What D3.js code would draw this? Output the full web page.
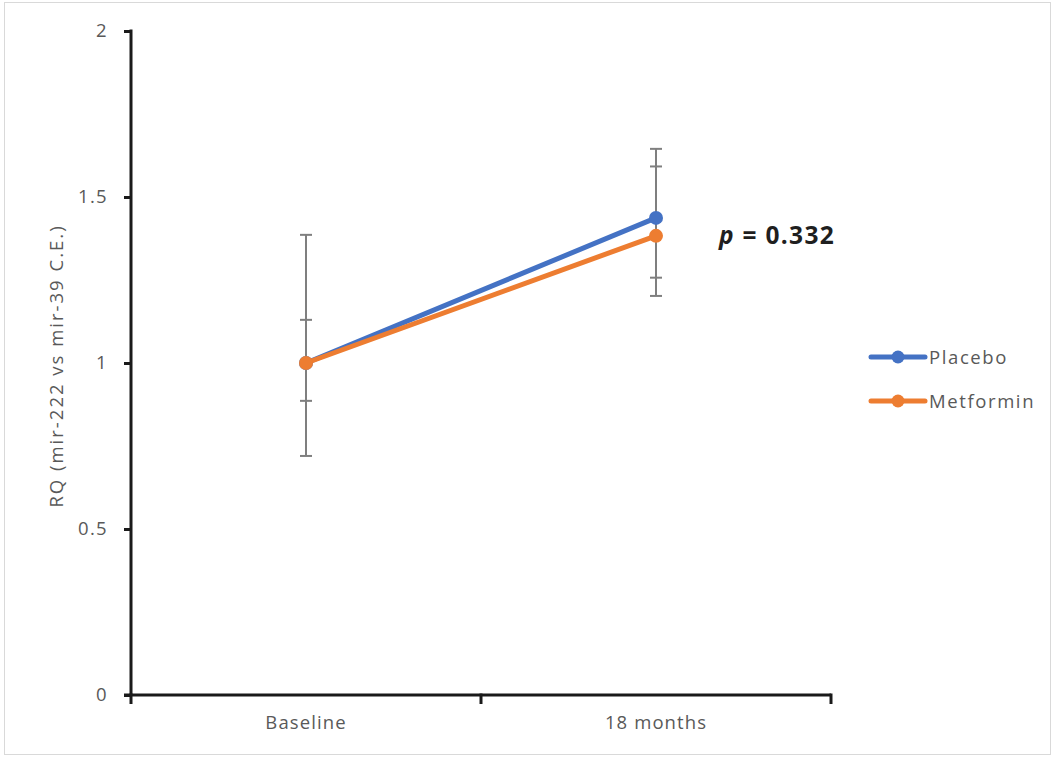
<!DOCTYPE html>
<html>
<head>
<meta charset="utf-8">
<script src="https://cdn.jsdelivr.net/npm/d3@7"></script>
<style>
  html, body { margin: 0; padding: 0; background: #fff; }
  svg { display: block; font-family: "Open Sans", sans-serif; }
</style>
</head>
<body>
<svg id="chart" width="1056" height="758"></svg>
<script>
// Time points and series
const timepoints = ["Baseline", "18 months"];
const seriesNames = ["Placebo", "Metformin"];
const seriesColors = ["#4472C4", "#ED7D31"];

// Mean relative quantity per time point
const placeboMean   = [1.0, 1.437];
const metforminMean = [1.0, 1.383];

// Error bar ends (upper / lower) per time point
const placeboUpper   = [1.13, 1.645];
const placeboLower   = [0.886, 1.257];
const metforminUpper = [1.386, 1.592];
const metforminLower = [0.72, 1.202];

const yTicks = [0, 0.5, 1, 1.5, 2];
const yTickLabels = ["0", "0.5", "1", "1.5", "2"];
const annotation = "0.332";

const FONT = "'Open Sans', sans-serif";

const series = [
  { name: seriesNames[0], color: seriesColors[0], mean: placeboMean, upper: placeboUpper, lower: placeboLower },
  { name: seriesNames[1], color: seriesColors[1], mean: metforminMean, upper: metforminUpper, lower: metforminLower }
];

const svg = d3.select("#chart");

// Outer frame
svg.append("rect")
  .attr("x", 4.5).attr("y", 2.5)
  .attr("width", 1046).attr("height", 752)
  .attr("fill", "#fff").attr("stroke", "#d9d9d9").attr("stroke-width", 1);

const plot = { left: 131, right: 831, top: 31, bottom: 695 };

const x = d3.scaleBand().domain(timepoints).range([plot.left, plot.right]).padding(0);
const y = d3.scaleLinear().domain([0, 2]).range([plot.bottom, plot.top]);
const cx = d => x(d) + x.bandwidth() / 2;

// Y axis
const yAxis = d3.axisLeft(y).tickValues(yTicks).tickFormat((d, i) => yTickLabels[i])
  .tickSizeInner(7).tickSizeOuter(0).tickPadding(16);
const gy = svg.append("g").attr("transform", `translate(${plot.left},0)`).call(yAxis);
gy.select(".domain").attr("stroke", "#1a1a1a").attr("stroke-width", 3)
  .attr("d", `M0,${plot.top - 1.5}V${plot.bottom}`);
gy.selectAll(".tick line").attr("stroke", "#1a1a1a").attr("stroke-width", 3);
gy.selectAll(".tick text").attr("fill", "#595959").attr("font-size", 18.5)
  .attr("letter-spacing", 1.3).attr("font-family", FONT);

// X axis with ticks on category boundaries
const xAxis = d3.axisBottom(x).tickSize(0).tickPadding(21);
const gx = svg.append("g").attr("transform", `translate(0,${plot.bottom})`).call(xAxis);
gx.select(".domain").attr("stroke", "#1a1a1a").attr("stroke-width", 3)
  .attr("d", `M${plot.left - 7},0H${plot.right}`);
gx.selectAll(".tick text").attr("fill", "#595959").attr("font-size", 18.5)
  .attr("letter-spacing", 1.1).attr("font-family", FONT);
const boundaries = [plot.left, ...timepoints.map(t => x(t) + x.bandwidth())];
gx.selectAll(".bound").data(boundaries).enter().append("line")
  .attr("x1", d => d).attr("x2", d => d)
  .attr("y1", -1.5).attr("y2", 9)
  .attr("stroke", "#1a1a1a").attr("stroke-width", 3);

// Y axis title
svg.append("text")
  .attr("transform", `translate(63,${(plot.top + plot.bottom) / 2 + 3}) rotate(-90)`)
  .attr("text-anchor", "middle")
  .attr("fill", "#595959").attr("font-size", 18.5)
  .attr("letter-spacing", 2)
  .text("RQ (mir-222 vs mir-39 C.E.)");

// Error bars
const eb = svg.append("g");
series.forEach(s => {
  timepoints.forEach((t, i) => {
    const xc = cx(t);
    eb.append("line").attr("x1", xc).attr("x2", xc)
      .attr("y1", y(s.upper[i])).attr("y2", y(s.lower[i]))
      .attr("stroke", "#7f7f7f").attr("stroke-width", 2);
    [s.upper[i], s.lower[i]].forEach(v => {
      eb.append("line").attr("x1", xc - 6).attr("x2", xc + 6)
        .attr("y1", y(v)).attr("y2", y(v))
        .attr("stroke", "#7f7f7f").attr("stroke-width", 2);
    });
  });
});

// Lines and markers
const line = d3.line().x((d, i) => cx(timepoints[i])).y(d => y(d));
series.forEach(s => {
  svg.append("path").datum(s.mean).attr("d", line)
    .attr("fill", "none").attr("stroke", s.color).attr("stroke-width", 5)
    .attr("stroke-linecap", "round");
  svg.selectAll(null).data(s.mean).enter().append("circle")
    .attr("cx", (d, i) => cx(timepoints[i])).attr("cy", d => y(d))
    .attr("r", 7).attr("fill", s.color);
});

// p-value annotation
const pText = svg.append("text").attr("x", 719).attr("y", 244)
  .attr("font-size", 24.5).attr("font-weight", "bold").attr("fill", "#1f1f1f")
  .attr("letter-spacing", 1.3);
pText.append("tspan").attr("font-style", "italic").text("p");
pText.append("tspan").text(" = " + annotation);

// Legend
const legend = svg.append("g");
series.forEach((s, i) => {
  const ly = 357 + i * 44;
  legend.append("line").attr("x1", 871).attr("x2", 925).attr("y1", ly).attr("y2", ly)
    .attr("stroke", s.color).attr("stroke-width", 5).attr("stroke-linecap", "round");
  legend.append("circle").attr("cx", 898).attr("cy", ly).attr("r", 6.5).attr("fill", s.color);
  legend.append("text").attr("x", 929).attr("y", ly + 6.5)
    .attr("font-size", 18.5).attr("letter-spacing", 1.6)
    .attr("fill", "#595959").text(s.name);
});
</script>
</body>
</html>
